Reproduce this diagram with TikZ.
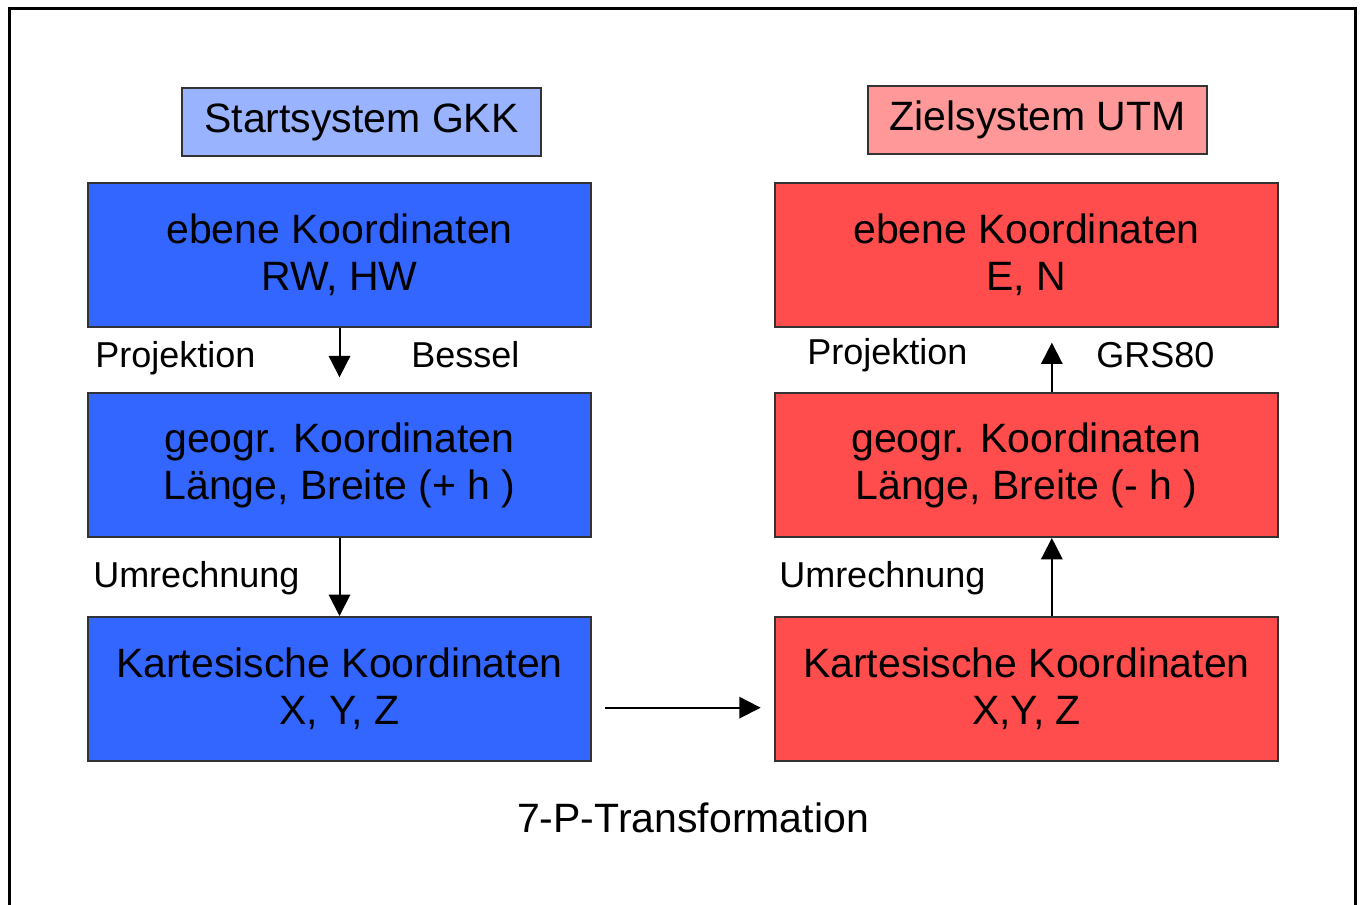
\documentclass[tikz,border=0pt]{standalone}
\usepackage{fontspec}
\setmainfont{Liberation Sans}
\usetikzlibrary{arrows.meta}
\definecolor{gkkhead}{RGB}{153,179,255}
\definecolor{gkkbox}{RGB}{51,102,255}
\definecolor{utmhead}{RGB}{255,153,153}
\definecolor{utmbox}{RGB}{255,77,77}
\definecolor{rim}{RGB}{51,51,51}
\tikzset{
  headbox/.style={draw=rim,line width=1.5pt,inner sep=0pt,minimum height=51pt,
    font=\fontsize{30.75}{35.25}\selectfont},
  koordbox/.style={draw=rim,line width=1.5pt,inner sep=0pt,minimum width=377.25pt,
    minimum height=108pt,align=center,font=\fontsize{30.75}{35.25}\selectfont},
  steplabel/.style={anchor=west,inner sep=0pt,font=\fontsize{27}{30}\selectfont},
  flow/.style={line width=1.5pt,-{Triangle[length=16pt,width=16pt]}}
}
\begin{document}
\begin{tikzpicture}[x=0.75pt,y=0.75pt,yscale=-1,xscale=1]
\useasboundingbox (0,0) rectangle (1360,905);
\draw [line width=2.25pt] (9,9) rectangle (1355.5,925);
% Startsystem
\node [headbox,fill=gkkhead,minimum width=269.25pt] (gkk) at (361.5,122) {Startsystem GKK};
\node [koordbox,fill=gkkbox] (gkkeben) at (339.5,255) {ebene Koordinaten\\RW, HW};
\node [koordbox,fill=gkkbox] (gkkgeo) at (339.5,465) {geogr. Koordinaten\\L\"ange, Breite (+ h )};
\node [koordbox,fill=gkkbox] (gkkkart) at (339.5,689) {Kartesische Koordinaten\\X, Y, Z};
% Zielsystem
\node [headbox,fill=utmhead,minimum width=254.25pt] (utm) at (1037.5,120) {Zielsystem UTM};
\node [koordbox,fill=utmbox] (utmeben) at (1026.5,255) {ebene Koordinaten\\E, N};
\node [koordbox,fill=utmbox] (utmgeo) at (1026.5,465) {geogr. Koordinaten\\L\"ange, Breite (- h )};
\node [koordbox,fill=utmbox] (utmkart) at (1026.5,689) {Kartesische Koordinaten\\X,Y, Z};
% Schritte
\draw [flow,shorten >=11pt] (gkkeben) -- (gkkgeo);
\draw [flow] (gkkgeo) -- (gkkkart);
\draw [flow] ([xshift=19pt]utmkart.north) -- ([xshift=19pt]utmgeo.south);
\draw [flow,shorten >=11pt] ([xshift=19pt]utmgeo.north) -- ([xshift=19pt]utmeben.south);
\draw [flow,shorten <=10pt,shorten >=10pt] ([yshift=14pt]gkkkart.east) -- ([yshift=14pt]utmkart.west);
\node [steplabel] (projl) at (95,358) {Projektion};
\node [steplabel] (bessel) at (411,355) {Bessel};
\node [steplabel] (umrl) at (93,578) {Umrechnung};
\node [steplabel] (projr) at (807,355) {Projektion};
\node [steplabel] (grs) at (1096,355) {GRS80};
\node [steplabel] (umrr) at (779,578) {Umrechnung};
\node [font=\fontsize{30.75}{35.25}\selectfont] (trafo) at (693,818) {7-P-Transformation};
\end{tikzpicture}
\end{document}
